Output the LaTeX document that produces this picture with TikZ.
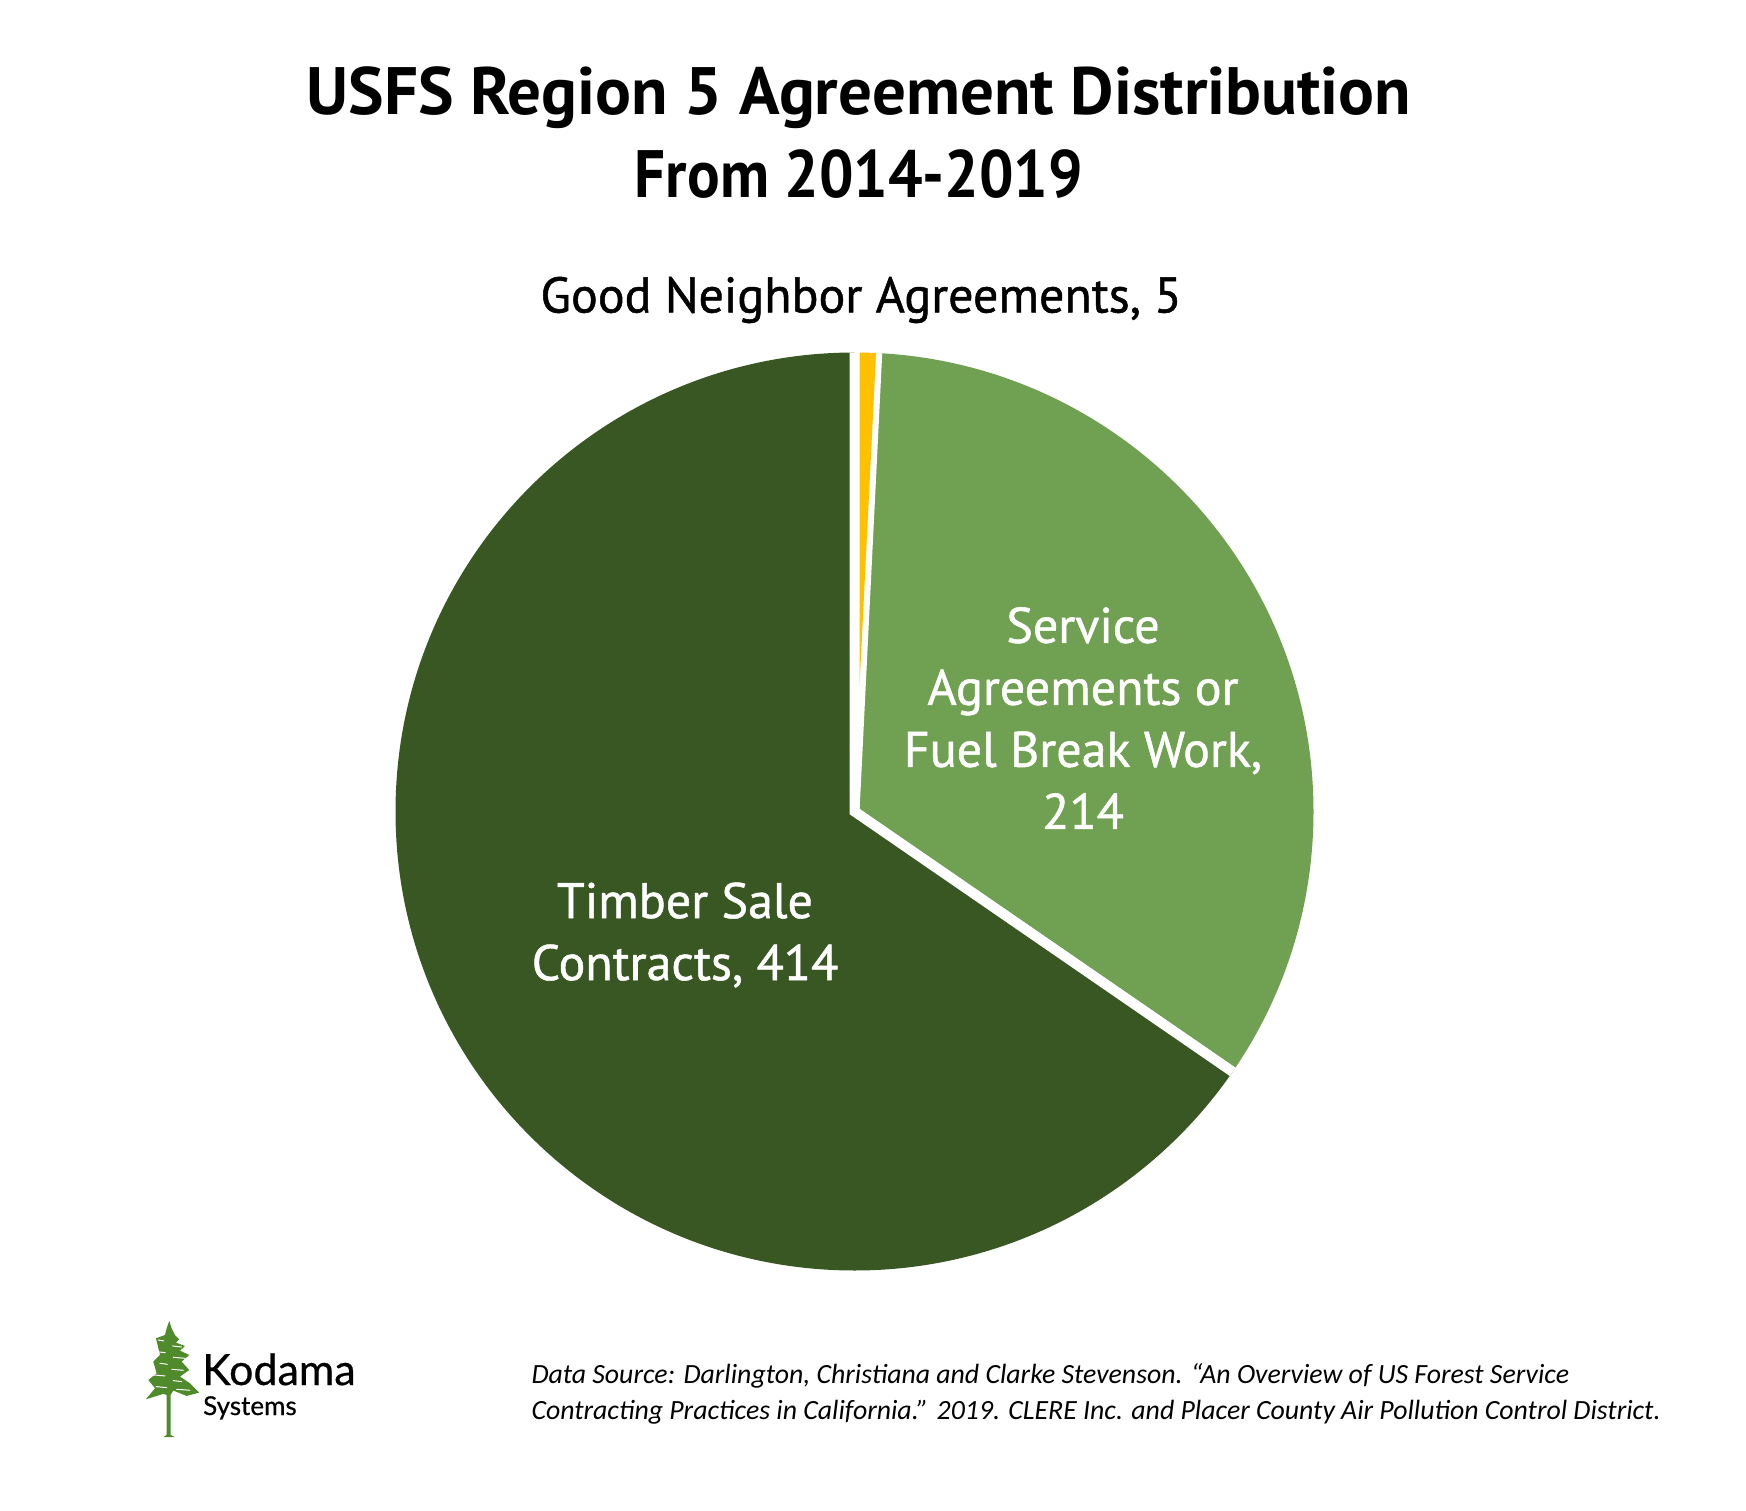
\documentclass[tikz,border=0pt]{standalone}
\usepackage{fontspec}
\usepackage{graphicx}
\setmainfont{PT Sans}
\newfontfamily\labelfont[FakeBold=1]{PT Sans}
\newfontfamily\notefont{Carlito}
\newfontfamily\logofont[FakeBold=0.5]{Lato}
\definecolor{timbergreen}{HTML}{385723}
\definecolor{servicegreen}{HTML}{70A052}
\definecolor{goodyellow}{HTML}{FFC000}
\definecolor{treegreen}{HTML}{4F8A2B}
\tikzset{
  slice/.style={draw=white,line width=10pt,line join=miter},
  heading/.style={font=\bfseries\fontsize{67}{83}\selectfont,align=center,text=black},
  label/.style={font=\labelfont\fontsize{50}{62}\selectfont,align=center},
  source/.style={font=\notefont\itshape\fontsize{27.8}{36}\selectfont,align=left,anchor=west,text=black},
  gap/.style={white,line width=1pt,line cap=round},
}
\begin{document}
\begin{tikzpicture}[x=1pt,y=-1pt]
\useasboundingbox (0,0) rectangle (1746,1511);

\node [heading] (title) at (859,133) {USFS Region 5 Agreement Distribution\\\scalebox{0.91}[1]{From 2014-2019}};

% slices, clockwise from the top
\coordinate (mid) at (854.5,811.5);
\scope
\clip (mid) circle [radius=459pt];
\fill [servicegreen,slice] (mid) -- ++(87.16:500pt) arc [start angle=87.16,end angle=-34.55,radius=500pt] -- cycle;
\fill [timbergreen,slice] (mid) -- ++(-34.55:500pt) arc [start angle=-34.55,end angle=-270,radius=500pt] -- cycle;
\fill [goodyellow] (859.5,686) -- (877.2,330) -- (859.5,330) -- cycle;
\endscope

\node [label,text=black] (good) at (861,300) {Good Neighbor Agreements, 5};
\node [label,text=white] (service) at (1083,718) {Service\\Agreements or\\Fuel Break Work,\\214};
\node [label,text=white] (timber) at (685,935) {Timber Sale\\Contracts, 414};

% logo
\scope [shift={(140,1320)},x=0.333pt,y=-0.333pt]
\fill [treegreen] (88,3) -- (95,25) -- (105,45) -- (118,58) -- (108,68) -- (135,78) -- (120,92) -- (148,105) -- (125,125)
  -- (148,150) -- (120,170) -- (150,190) -- (178,218) -- (140,228) -- (100,212) -- (92,225) -- (92,345) -- (105,352) -- (70,352)
  -- (80,345) -- (80,225) -- (70,222) -- (18,238) -- (45,205) -- (25,180) -- (50,160) -- (40,125) -- (60,105) -- (48,55)
  -- (75,45) -- (80,25) -- cycle;
\foreach \y/\l/\r in {60/55/72, 78/98/125, 95/48/76, 112/100/135, 130/60/82, 148/96/130, 165/40/75, 182/100/125, 200/48/80, 208/110/150}
  \draw [gap] (\l,\y) -- (\r,{\y+3});
\endscope
\node [font=\logofont\fontsize{43}{43}\selectfont,anchor=base west,inner sep=0pt] (kodama) at (202,1385) {Kodama};
\node [font=\logofont\fontsize{26}{26}\selectfont,anchor=base west,inner sep=0pt] (systems) at (203,1415) {Systems};

\node [source] (note) at (528,1394) {Data Source: Darlington, Christiana and Clarke Stevenson. “An Overview of US Forest Service\\Contracting Practices in California.” 2019. CLERE Inc. and Placer County Air Pollution Control District.};
\end{tikzpicture}
\end{document}
